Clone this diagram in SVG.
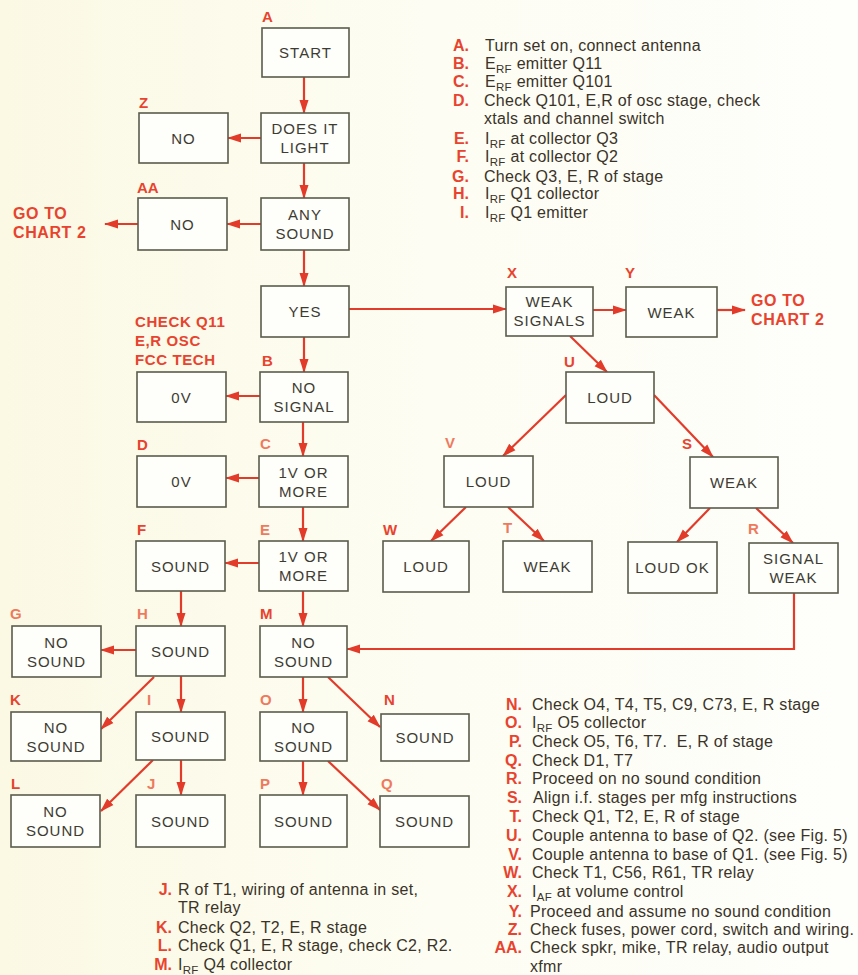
<svg xmlns="http://www.w3.org/2000/svg" width="858" height="975" viewBox="0 0 858 975">
<defs>
<linearGradient id="bg" x1="0" y1="0" x2="1" y2="0">
<stop offset="0" stop-color="#fbf9e4"/>
<stop offset="0.5" stop-color="#fdfdf3"/>
<stop offset="1" stop-color="#fefefb"/>
</linearGradient>
<marker id="ah" markerUnits="userSpaceOnUse" markerWidth="14" markerHeight="10" refX="13" refY="5" orient="auto">
<path d="M0,0.5 L14,5 L0,9.5 Z" fill="#e23b2a"/>
</marker>
<style>
.box{fill:#fefefb;stroke:#5a5c4c;stroke-width:1.6}
.nt{font-family:"Liberation Sans",Arial,sans-serif;font-size:15px;letter-spacing:1px;fill:#3d3c32;text-anchor:middle}
.lb{font-family:"Liberation Sans",Arial,sans-serif;font-size:15px;font-weight:bold;fill:#e8432e}
.lb2{font-family:"Liberation Sans",Arial,sans-serif;font-size:15px;font-weight:bold;fill:#ee7a5e}
.rt{font-family:"Liberation Sans",Arial,sans-serif;font-size:16px;font-weight:bold;fill:#e8432e;letter-spacing:0.6px}
.lg{font-family:"Liberation Sans",Arial,sans-serif;font-size:16px;letter-spacing:0.3px;fill:#3a3328;white-space:pre}
.ll{font-family:"Liberation Sans",Arial,sans-serif;font-size:16px;font-weight:bold;fill:#e8432e;text-anchor:end}
.sub{font-size:11.5px}
.cn{fill:none;stroke:#e23b2a;stroke-width:2.2;marker-end:url(#ah)}
</style>
</defs>
<rect x="0" y="0" width="858" height="975" fill="url(#bg)"/>

<g id="connectors">
<path class="cn" d="M304,77 L304,113"/>
<path class="cn" d="M261,138 L228,138"/>
<path class="cn" d="M304,163 L304,198"/>
<path class="cn" d="M261,224 L227,224"/>
<path class="cn" d="M138,224 L105,224"/>
<path class="cn" d="M304,250 L304,286"/>
<path class="cn" d="M349,309 L506,309"/>
<path class="cn" d="M593,310 L626,310"/>
<path class="cn" d="M717,310 L745,310"/>
<path class="cn" d="M304,337 L304,372"/>
<path class="cn" d="M260,396 L226,396"/>
<path class="cn" d="M303,422 L303,456"/>
<path class="cn" d="M259,478 L226,478"/>
<path class="cn" d="M303,507 L303,541"/>
<path class="cn" d="M259,563 L225,563"/>
<path class="cn" d="M181,591 L181,626"/>
<path class="cn" d="M303,591 L303,626"/>
<path class="cn" d="M136,650 L101,650"/>
<path class="cn" d="M154,677 L101,729"/>
<path class="cn" d="M181,676 L181,712"/>
<path class="cn" d="M153,760 L101,811"/>
<path class="cn" d="M181,760 L181,795"/>
<path class="cn" d="M303,677 L303,712"/>
<path class="cn" d="M328,677 L380,727"/>
<path class="cn" d="M303,761 L303,795"/>
<path class="cn" d="M328,761 L380,810"/>
<path class="cn" d="M794,593 L794,649 L347,649"/>
<path class="cn" d="M570,336 L607,372"/>
<path class="cn" d="M566,395 L503,456"/>
<path class="cn" d="M654,395 L713,457"/>
<path class="cn" d="M466,507 L431,541"/>
<path class="cn" d="M508,507 L544,541"/>
<path class="cn" d="M710,508 L677,542"/>
<path class="cn" d="M756,508 L793,543"/>
</g>

<g id="nA"><rect class="box" x="262" y="28" width="87" height="49"/><text class="nt" x="305.5" y="58">START</text></g>
<g id="nDoes"><rect class="box" x="261" y="113" width="88" height="50"/><text class="nt" x="305" y="134">DOES IT</text><text class="nt" x="305" y="153">LIGHT</text></g>
<g id="nZ"><rect class="box" x="139" y="113" width="89" height="50"/><text class="nt" x="183.5" y="143.5">NO</text></g>
<g id="nAny"><rect class="box" x="261" y="198" width="88" height="52"/><text class="nt" x="305" y="220">ANY</text><text class="nt" x="305" y="239">SOUND</text></g>
<g id="nAA"><rect class="box" x="138" y="198" width="89" height="52"/><text class="nt" x="182.5" y="229.5">NO</text></g>
<g id="nYes"><rect class="box" x="261" y="286" width="88" height="51"/><text class="nt" x="305" y="317">YES</text></g>
<g id="nB0V"><rect class="box" x="137" y="372" width="89" height="50"/><text class="nt" x="181.5" y="402.5">0V</text></g>
<g id="nB"><rect class="box" x="260" y="372" width="88" height="50"/><text class="nt" x="304" y="393">NO</text><text class="nt" x="304" y="412">SIGNAL</text></g>
<g id="nD"><rect class="box" x="137" y="456" width="89" height="51"/><text class="nt" x="181.5" y="487">0V</text></g>
<g id="nC"><rect class="box" x="259" y="456" width="89" height="51"/><text class="nt" x="303.5" y="478">1V OR</text><text class="nt" x="303.5" y="497">MORE</text></g>
<g id="nF"><rect class="box" x="136" y="541" width="89" height="50"/><text class="nt" x="180.5" y="571.5">SOUND</text></g>
<g id="nE"><rect class="box" x="259" y="541" width="89" height="50"/><text class="nt" x="303.5" y="562">1V OR</text><text class="nt" x="303.5" y="581">MORE</text></g>
<g id="nG"><rect class="box" x="12" y="626" width="89" height="51"/><text class="nt" x="56.5" y="648">NO</text><text class="nt" x="56.5" y="667">SOUND</text></g>
<g id="nH"><rect class="box" x="136" y="626" width="89" height="50"/><text class="nt" x="180.5" y="656.5">SOUND</text></g>
<g id="nM"><rect class="box" x="260" y="626" width="87" height="51"/><text class="nt" x="303.5" y="648">NO</text><text class="nt" x="303.5" y="667">SOUND</text></g>
<g id="nK"><rect class="box" x="11" y="712" width="90" height="49"/><text class="nt" x="56" y="733">NO</text><text class="nt" x="56" y="752">SOUND</text></g>
<g id="nI"><rect class="box" x="136" y="712" width="89" height="48"/><text class="nt" x="180.5" y="741.5">SOUND</text></g>
<g id="nO"><rect class="box" x="260" y="712" width="87" height="49"/><text class="nt" x="303.5" y="733">NO</text><text class="nt" x="303.5" y="752">SOUND</text></g>
<g id="nN"><rect class="box" x="381" y="714" width="88" height="47"/><text class="nt" x="425" y="743">SOUND</text></g>
<g id="nL"><rect class="box" x="11" y="795" width="89" height="52"/><text class="nt" x="55.5" y="817">NO</text><text class="nt" x="55.5" y="836">SOUND</text></g>
<g id="nJ"><rect class="box" x="136" y="795" width="89" height="52"/><text class="nt" x="180.5" y="826.5">SOUND</text></g>
<g id="nP"><rect class="box" x="260" y="795" width="87" height="52"/><text class="nt" x="303.5" y="826.5">SOUND</text></g>
<g id="nQ"><rect class="box" x="380" y="796" width="89" height="51"/><text class="nt" x="424.5" y="827">SOUND</text></g>
<g id="nX"><rect class="box" x="506" y="287" width="87" height="49"/><text class="nt" x="549.5" y="307">WEAK</text><text class="nt" x="549.5" y="326">SIGNALS</text></g>
<g id="nY"><rect class="box" x="626" y="287" width="91" height="50"/><text class="nt" x="671.5" y="317.5">WEAK</text></g>
<g id="nU"><rect class="box" x="566" y="372" width="88" height="51"/><text class="nt" x="610" y="403">LOUD</text></g>
<g id="nV"><rect class="box" x="444" y="456" width="89" height="51"/><text class="nt" x="488.5" y="487">LOUD</text></g>
<g id="nS"><rect class="box" x="690" y="457" width="88" height="51"/><text class="nt" x="734" y="488">WEAK</text></g>
<g id="nW"><rect class="box" x="383" y="541" width="86" height="51"/><text class="nt" x="426" y="572">LOUD</text></g>
<g id="nT"><rect class="box" x="503" y="541" width="89" height="51"/><text class="nt" x="547.5" y="572">WEAK</text></g>
<g id="nLoudOK"><rect class="box" x="628" y="542" width="89" height="51"/><text class="nt" x="672.5" y="573">LOUD OK</text></g>
<g id="nR"><rect class="box" x="749" y="543" width="89" height="50"/><text class="nt" x="793.5" y="564">SIGNAL</text><text class="nt" x="793.5" y="583">WEAK</text></g>

<g id="labels">
<text class="lb" x="262" y="22">A</text>
<text class="lb" x="139" y="108">Z</text>
<text class="lb" x="137" y="193">AA</text>
<text class="lb" x="262" y="366">B</text>
<text class="lb2" x="260" y="449">C</text>
<text class="lb" x="137" y="450">D</text>
<text class="lb2" x="260" y="535">E</text>
<text class="lb" x="137" y="535">F</text>
<text class="lb" x="383" y="535">W</text>
<text class="lb2" x="10" y="619">G</text>
<text class="lb2" x="137" y="619">H</text>
<text class="lb" x="260" y="619">M</text>
<text class="lb" x="10" y="705">K</text>
<text class="lb2" x="147" y="705">I</text>
<text class="lb2" x="260" y="705">O</text>
<text class="lb" x="384" y="705">N</text>
<text class="lb" x="11" y="789">L</text>
<text class="lb2" x="147" y="789">J</text>
<text class="lb2" x="260" y="789">P</text>
<text class="lb2" x="381" y="789">Q</text>
<text class="lb" x="507" y="278">X</text>
<text class="lb" x="625" y="278">Y</text>
<text class="lb" x="564" y="367">U</text>
<text class="lb2" x="445" y="448">V</text>
<text class="lb" x="682" y="449">S</text>
<text class="lb2" x="503" y="533">T</text>
<text class="lb2" x="748" y="534">R</text>
<text class="rt" x="13" y="219">GO TO</text>
<text class="rt" x="13" y="238">CHART 2</text>
<text class="rt" x="751" y="306">GO TO</text>
<text class="rt" x="751" y="325">CHART 2</text>
<text class="rt" style="font-size:15px" x="135" y="327">CHECK Q11</text>
<text class="rt" style="font-size:15px" x="135" y="346">E,R OSC</text>
<text class="rt" style="font-size:15px" x="135" y="365">FCC TECH</text>
</g>

<g id="legend-top">
<text class="ll" x="469" y="51">A.</text><text class="lg" x="485" y="51">Turn set on, connect antenna</text>
<text class="ll" x="469" y="69">B.</text><text class="lg" x="485" y="69">E<tspan class="sub" dy="4">RF</tspan><tspan dy="-4"> emitter Q11</tspan></text>
<text class="ll" x="469" y="87">C.</text><text class="lg" x="485" y="87">E<tspan class="sub" dy="4">RF</tspan><tspan dy="-4"> emitter Q101</tspan></text>
<text class="ll" x="469" y="106">D.</text><text class="lg" x="484" y="106">Check Q101, E,R of osc stage, check</text>
<text class="lg" x="484" y="124">xtals and channel switch</text>
<text class="ll" x="469" y="144">E.</text><text class="lg" x="485" y="144">I<tspan class="sub" dy="4">RF</tspan><tspan dy="-4"> at collector Q3</tspan></text>
<text class="ll" x="469" y="162">F.</text><text class="lg" x="485" y="162">I<tspan class="sub" dy="4">RF</tspan><tspan dy="-4"> at collector Q2</tspan></text>
<text class="ll" x="469" y="182">G.</text><text class="lg" x="484" y="182">Check Q3, E, R of stage</text>
<text class="ll" x="469" y="199">H.</text><text class="lg" x="485" y="199">I<tspan class="sub" dy="4">RF</tspan><tspan dy="-4"> Q1 collector</tspan></text>
<text class="ll" x="469" y="218">I.</text><text class="lg" x="485" y="218">I<tspan class="sub" dy="4">RF</tspan><tspan dy="-4"> Q1 emitter</tspan></text>
</g>

<g id="legend-right">
<text class="ll" x="522" y="710">N.</text><text class="lg" x="532" y="710">Check O4, T4, T5, C9, C73, E, R stage</text>
<text class="ll" x="522" y="728">O.</text><text class="lg" x="532" y="728">I<tspan class="sub" dy="4">RF</tspan><tspan dy="-4"> O5 collector</tspan></text>
<text class="ll" x="522" y="747">P.</text><text class="lg" x="532" y="747">Check O5, T6, T7.  E, R of stage</text>
<text class="ll" x="522" y="766">Q.</text><text class="lg" x="532" y="766">Check D1, T7</text>
<text class="ll" x="522" y="784">R.</text><text class="lg" x="532" y="784">Proceed on no sound condition</text>
<text class="ll" x="522" y="803">S.</text><text class="lg" x="533" y="803">Align i.f. stages per mfg instructions</text>
<text class="ll" x="522" y="822">T.</text><text class="lg" x="532" y="822">Check Q1, T2, E, R of stage</text>
<text class="ll" x="522" y="841">U.</text><text class="lg" x="532" y="841">Couple antenna to base of Q2. (see Fig. 5)</text>
<text class="ll" x="522" y="860">V.</text><text class="lg" x="532" y="860">Couple antenna to base of Q1. (see Fig. 5)</text>
<text class="ll" x="522" y="878">W.</text><text class="lg" x="532" y="878">Check T1, C56, R61, TR relay</text>
<text class="ll" x="522" y="897">X.</text><text class="lg" x="532" y="897">I<tspan class="sub" dy="4">AF</tspan><tspan dy="-4"> at volume control</tspan></text>
<text class="ll" x="522" y="917">Y.</text><text class="lg" x="530" y="917">Proceed and assume no sound condition</text>
<text class="ll" x="522" y="935">Z.</text><text class="lg" x="530" y="935">Check fuses, power cord, switch and wiring.</text>
<text class="ll" x="522" y="953">AA.</text><text class="lg" x="530" y="953">Check spkr, mike, TR relay, audio output</text>
<text class="lg" x="530" y="972">xfmr</text>
</g>

<g id="legend-bottom">
<text class="ll" x="172" y="895">J.</text><text class="lg" x="178" y="895">R of T1, wiring of antenna in set,</text>
<text class="lg" x="178" y="913">TR relay</text>
<text class="ll" x="172" y="933">K.</text><text class="lg" x="178" y="933">Check Q2, T2, E, R stage</text>
<text class="ll" x="172" y="951">L.</text><text class="lg" x="178" y="951">Check Q1, E, R stage, check C2, R2.</text>
<text class="ll" x="172" y="970">M.</text><text class="lg" x="178" y="970">I<tspan class="sub" dy="4">RF</tspan><tspan dy="-4"> Q4 collector</tspan></text>
</g>
</svg>
